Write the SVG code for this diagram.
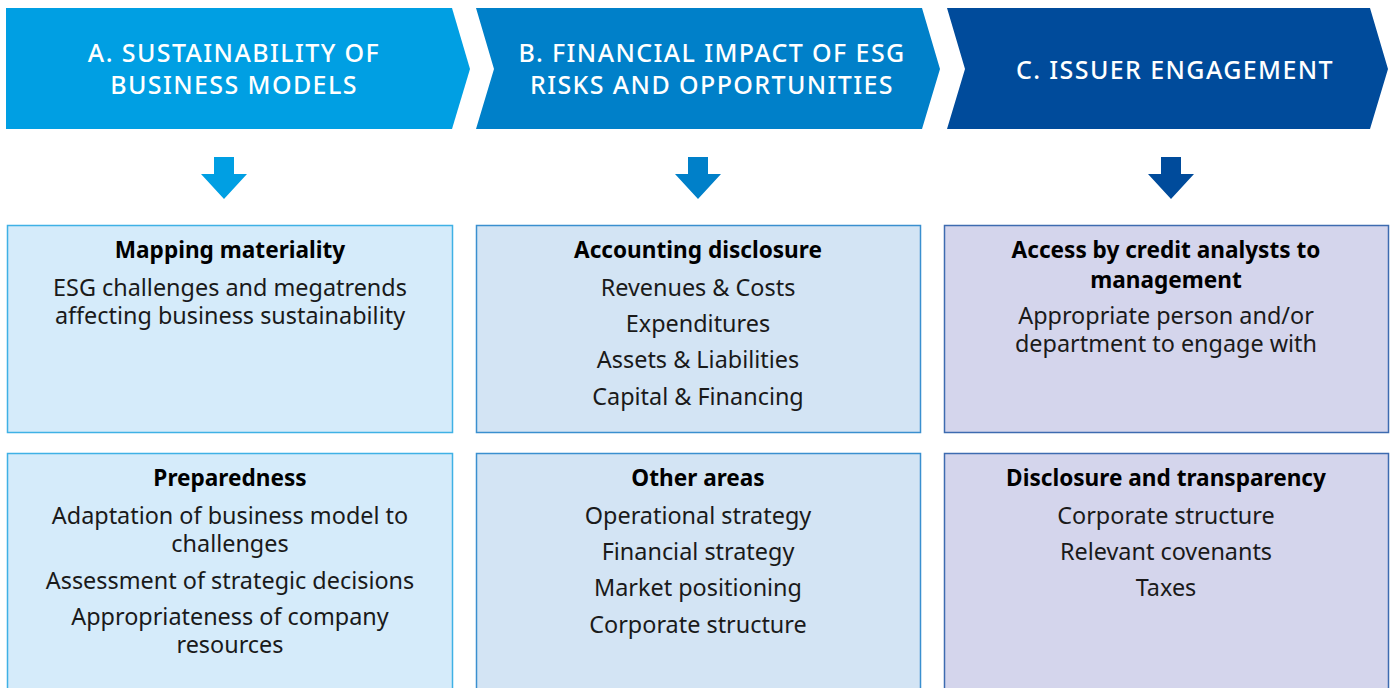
<svg xmlns="http://www.w3.org/2000/svg" width="1395" height="688" viewBox="0 0 1395 688">
<style>
.hd{font-family:"Noto Sans","Open Sans",sans-serif;font-size:25px;font-weight:500;letter-spacing:1.4px;fill:#ffffff;text-anchor:middle}
.tt{font-family:"Noto Sans","Open Sans",sans-serif;font-size:22.6px;font-weight:700;fill:#000000;text-anchor:middle}
.bd{font-family:"Noto Sans","Open Sans",sans-serif;font-size:23.4px;fill:#1a1a1a;text-anchor:middle}
.bxA{fill:#d5ebfa;stroke:#3fb1e5;stroke-width:1.5}
.bxB{fill:#d3e4f4;stroke:#3a8fcf;stroke-width:1.5}
.bxC{fill:#d4d5ec;stroke:#3d6bb0;stroke-width:1.5}
</style>
<rect width="1395" height="688" fill="#ffffff"/>
<g id="headerA">
<polygon points="6,8 452,8 470,69 452,129 6,129" fill="#009fe3"/>
<text class="hd" x="234" y="62">A. SUSTAINABILITY OF</text>
<text class="hd" x="234" y="94">BUSINESS MODELS</text>
</g>
<g id="headerB">
<polygon points="476,8 922,8 940,69 922,129 476,129 494,69" fill="#0080c9"/>
<text class="hd" x="712" y="62">B. FINANCIAL IMPACT OF ESG</text>
<text class="hd" x="712" y="94">RISKS AND OPPORTUNITIES</text>
</g>
<g id="headerC">
<polygon points="947,8 1370,8 1388,69 1370,129 947,129 965,69" fill="#004b9b"/>
<text class="hd" x="1175" y="79">C. ISSUER ENGAGEMENT</text>
</g>
<g id="connectors">
<polygon points="214,157 234,157 234,174 247,174 224,199 201,174 214,174" fill="#009fe3"/>
<polygon points="688,157 708,157 708,174 721,174 698,199 675,174 688,174" fill="#0080c9"/>
<polygon points="1161,157 1181,157 1181,174 1194,174 1171,199 1148,174 1161,174" fill="#004b9b"/>
</g>
<g id="boxA1">
<rect class="bxA" x="7.5" y="225.5" width="445" height="207"/>
<text class="tt" x="230" y="258">Mapping materiality</text>
<text class="bd" x="230" y="296">ESG challenges and megatrends</text>
<text class="bd" x="230" y="324">affecting business sustainability</text>
</g>
<g id="boxB1">
<rect class="bxB" x="476.5" y="225.5" width="444" height="207"/>
<text class="tt" x="698" y="258">Accounting disclosure</text>
<text class="bd" x="698" y="296">Revenues &amp; Costs</text>
<text class="bd" x="698" y="332">Expenditures</text>
<text class="bd" x="698" y="368">Assets &amp; Liabilities</text>
<text class="bd" x="698" y="405">Capital &amp; Financing</text>
</g>
<g id="boxC1">
<rect class="bxC" x="944.5" y="225.5" width="444" height="207"/>
<text class="tt" x="1166" y="258">Access by credit analysts to</text>
<text class="tt" x="1166" y="288">management</text>
<text class="bd" x="1166" y="324">Appropriate person and/or</text>
<text class="bd" x="1166" y="352">department to engage with</text>
</g>
<g id="boxA2">
<rect class="bxA" x="7.5" y="453.5" width="445" height="240"/>
<text class="tt" x="230" y="486">Preparedness</text>
<text class="bd" x="230" y="524">Adaptation of business model to</text>
<text class="bd" x="230" y="552">challenges</text>
<text class="bd" x="230" y="589">Assessment of strategic decisions</text>
<text class="bd" x="230" y="625">Appropriateness of company</text>
<text class="bd" x="230" y="653">resources</text>
</g>
<g id="boxB2">
<rect class="bxB" x="476.5" y="453.5" width="444" height="240"/>
<text class="tt" x="698" y="486">Other areas</text>
<text class="bd" x="698" y="524">Operational strategy</text>
<text class="bd" x="698" y="560">Financial strategy</text>
<text class="bd" x="698" y="596">Market positioning</text>
<text class="bd" x="698" y="633">Corporate structure</text>
</g>
<g id="boxC2">
<rect class="bxC" x="944.5" y="453.5" width="444" height="240"/>
<text class="tt" x="1166" y="486">Disclosure and transparency</text>
<text class="bd" x="1166" y="524">Corporate structure</text>
<text class="bd" x="1166" y="560">Relevant covenants</text>
<text class="bd" x="1166" y="596">Taxes</text>
</g>
</svg>
